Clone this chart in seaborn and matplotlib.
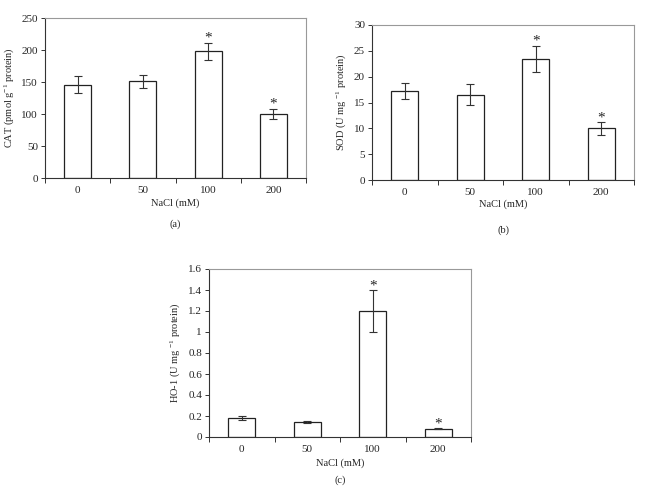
import matplotlib
matplotlib.use("Agg")
import matplotlib.pyplot as plt
import matplotlib.ticker as mticker
import numpy as np
import pandas as pd
import seaborn as sns

# data
nacl = ["0", "50", "100", "200"]
cat_mean = [146, 151, 198, 100]
cat_err = [13, 10, 13, 8]
sod_mean = [17.2, 16.5, 23.5, 10.0]
sod_err = [1.5, 2.0, 2.5, 1.2]
ho1_mean = [0.18, 0.145, 1.2, 0.08]
ho1_err = [0.02, 0.01, 0.2, 0.005]
signif = [False, False, True, True]

sns.set_style("white")
plt.rcParams["font.family"] = ["Liberation Serif", "DejaVu Serif"]
plt.rcParams["mathtext.fontset"] = "custom"
plt.rcParams["mathtext.rm"] = "Liberation Serif"
plt.rcParams["mathtext.it"] = "Liberation Serif:italic"

W, H = 647, 492
fig = plt.figure(figsize=(W / 100, H / 100), dpi=100)


def px_axes(x0, y0, x1, y1):
    return fig.add_axes([x0 / W, 1 - y1 / H, (x1 - x0) / W, (y1 - y0) / H])


def panel(ax, means, errs, ymax, ystep, ylabel, tag, xlab_y, tag_y):
    df = pd.DataFrame({"NaCl": nacl, "val": means})
    sns.barplot(data=df, x="NaCl", y="val", ax=ax, color="white",
                edgecolor="#222222", linewidth=0.9, width=0.41, errorbar=None)
    ax.errorbar(np.arange(len(nacl)), means, yerr=errs, fmt="none",
                ecolor="#333333", elinewidth=0.8, capsize=3, capthick=0.8)
    for i, s in enumerate(signif):
        if s:
            ax.annotate("*", (i, means[i] + errs[i]), xytext=(0, -1.5),
                        textcoords="offset points", ha="center", va="bottom",
                        fontsize=11)
    ax.set_xlim(-0.5, len(nacl) - 0.5)
    ax.set_ylim(0, ymax)
    ax.yaxis.set_major_locator(mticker.MultipleLocator(ystep))
    ax.yaxis.set_major_formatter(mticker.FuncFormatter(lambda v, p: f"{v:g}"))
    ax.xaxis.set_minor_locator(mticker.FixedLocator(np.arange(-0.5, len(nacl), 1)))
    ax.tick_params(axis="x", which="major", length=0, labelsize=8, pad=6)
    ax.tick_params(axis="x", which="minor", length=3.5, width=0.7, direction="out",
                   color="#333333", bottom=True)
    ax.tick_params(axis="y", length=3, width=0.7, direction="out", labelsize=8,
                   color="#333333", left=True, pad=2)
    for side in ["left", "bottom"]:
        ax.spines[side].set_color("#333333")
        ax.spines[side].set_linewidth(0.8)
    for side in ["top", "right"]:
        ax.spines[side].set_color("#999999")
        ax.spines[side].set_linewidth(0.8)
    ax.set_xlabel("")
    ax.set_ylabel(ylabel, fontsize=7.5, labelpad=4)
    bb = ax.get_position()
    xc = (bb.x0 + bb.x1) / 2
    fig.text(xc, 1 - xlab_y / H, "NaCl (mM)", ha="center", va="center", fontsize=7.5)
    fig.text(xc, 1 - tag_y / H, tag, ha="center", va="center", fontsize=7.5)


ax_a = px_axes(45, 18, 306, 178)
panel(ax_a, cat_mean, cat_err, 250, 50, "CAT (pmol g$^{-1}$ protein)", "(a)", 203, 224)

ax_b = px_axes(372, 25, 634, 180)
panel(ax_b, sod_mean, sod_err, 30, 5, "SOD (U mg $^{-1}$ protein)", "(b)", 204, 230)

ax_c = px_axes(209, 269, 471, 437)
panel(ax_c, ho1_mean, ho1_err, 1.6, 0.2, "HO-1 (U mg $^{-1}$ protein)", "(c)", 463, 480)

fig.savefig("out.png", dpi=100)
